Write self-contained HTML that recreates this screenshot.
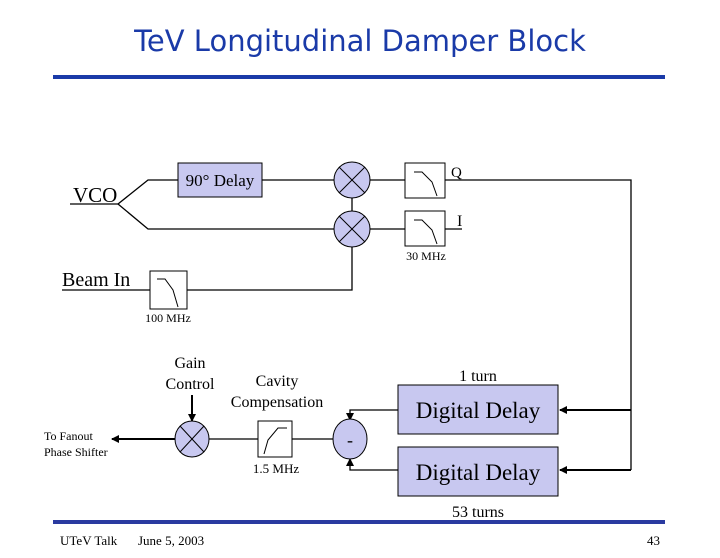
<!DOCTYPE html>
<html><head><style>
body{margin:0;background:#fff}
svg{display:block}
.s{font-family:"Liberation Serif",serif;fill:#000}
</style></head><body>
<svg width="720" height="558" viewBox="0 0 720 558" xmlns="http://www.w3.org/2000/svg">
<defs>
<marker id="ah" markerWidth="8" markerHeight="8" refX="7" refY="4" orient="auto" markerUnits="userSpaceOnUse">
<path d="M0,0 L8,4 L0,8 z" fill="#000"/></marker>
</defs>
<text x="360" y="51" text-anchor="middle" font-family="'Comic Sans MS','DejaVu Sans',sans-serif" font-size="29" fill="#1a3aa8">TeV Longitudinal Damper Block</text>
<rect x="53" y="75" width="612" height="4" fill="#1a3aa8"/>
<rect x="53" y="520" width="612" height="4" fill="#2a3aa0"/>
<text x="60" y="545" class="s" font-size="13">UTeV Talk</text>
<text x="138" y="545" class="s" font-size="13">June 5, 2003</text>
<text x="660" y="545" class="s" font-size="13" text-anchor="end">43</text>

<g stroke="#000" stroke-width="1.3" fill="none">
<!-- VCO -->
<line x1="70" y1="204" x2="118" y2="204"/>
<polyline points="118,204 148,180 178,180"/>
<polyline points="118,204 148,229 334,229"/>
<line x1="262" y1="180" x2="334" y2="180"/>
<line x1="370" y1="180" x2="405" y2="180"/>
<line x1="370" y1="229" x2="405" y2="229"/>
<line x1="352" y1="198" x2="352" y2="211"/>
<polyline points="445,180 631,180 631,470"/>
<line x1="445" y1="229" x2="462" y2="229"/>
<!-- beam -->
<line x1="62" y1="290" x2="150" y2="290"/>
<polyline points="187,290 352,290 352,247"/>
<!-- lower -->
<line x1="175" y1="439" x2="112" y2="439" stroke-width="2" marker-end="url(#ah)"/>
<line x1="192" y1="395" x2="192" y2="421" stroke-width="2" marker-end="url(#ah)"/>
<line x1="209" y1="439" x2="258" y2="439"/>
<line x1="292" y1="439" x2="333" y2="439"/>
<polyline points="398,410 350,410 350,420" marker-end="url(#ah)"/>
<polyline points="398,470 350,470 350,459" marker-end="url(#ah)"/>
<line x1="631" y1="410" x2="560" y2="410" stroke-width="2" marker-end="url(#ah)"/>
<line x1="631" y1="470" x2="560" y2="470" stroke-width="2" marker-end="url(#ah)"/>
</g>

<rect x="178" y="163" width="84" height="34" fill="#c8c8f0" stroke="#000"/>
<text x="220" y="186" class="s" font-size="17" text-anchor="middle">90° Delay</text>
<text x="73" y="202" class="s" font-size="21">VCO</text>
<text x="62" y="286" class="s" font-size="20">Beam In</text>

<!-- mixers -->
<g stroke="#000" stroke-width="1" fill="#c8c8f0">
<ellipse cx="352" cy="180" rx="18" ry="18"/>
<ellipse cx="352" cy="229" rx="18" ry="18"/>
<ellipse cx="192" cy="439" rx="17" ry="18"/>
<ellipse cx="350" cy="439" rx="17" ry="20"/>
</g>
<g stroke="#000" stroke-width="1">
<line x1="339" y1="167" x2="365" y2="193"/><line x1="365" y1="167" x2="339" y2="193"/>
<line x1="339" y1="216" x2="365" y2="242"/><line x1="365" y1="216" x2="339" y2="242"/>
<line x1="180" y1="426" x2="204" y2="452"/><line x1="204" y1="426" x2="180" y2="452"/>
</g>
<text x="350" y="446" class="s" font-size="18" text-anchor="middle">-</text>

<!-- filters -->
<g stroke="#000" stroke-width="1" fill="#fff">
<rect x="405" y="163" width="40" height="35"/>
<rect x="405" y="211" width="40" height="35"/>
<rect x="150" y="271" width="37" height="38"/>
<rect x="258" y="421" width="34" height="36"/>
</g>
<g stroke="#000" stroke-width="1" fill="none">
<path d="M414,172 H422 L432,182 L437,196"/>
<path d="M414,220 H422 L432,230 L437,244"/>
<path d="M157,279 H165 L173,290 L178,307"/>
<path d="M264,454 L268,440 L278,428 H287"/>
</g>
<text x="451" y="177" class="s" font-size="15">Q</text>
<text x="457" y="226" class="s" font-size="16">I</text>
<text x="426" y="260" class="s" font-size="12" text-anchor="middle">30 MHz</text>
<text x="168" y="322" class="s" font-size="12" text-anchor="middle">100 MHz</text>
<text x="276" y="473" class="s" font-size="13" text-anchor="middle">1.5 MHz</text>

<text x="190" y="368" class="s" font-size="16" text-anchor="middle">Gain</text>
<text x="190" y="389" class="s" font-size="16" text-anchor="middle">Control</text>
<text x="277" y="386" class="s" font-size="16" text-anchor="middle">Cavity</text>
<text x="277" y="407" class="s" font-size="16" text-anchor="middle">Compensation</text>
<text x="44" y="440" class="s" font-size="12">To Fanout</text>
<text x="44" y="456" class="s" font-size="12">Phase Shifter</text>

<rect x="398" y="385" width="160" height="49" fill="#c8c8f0" stroke="#000"/>
<rect x="398" y="447" width="160" height="49" fill="#c8c8f0" stroke="#000"/>
<text x="478" y="418" class="s" font-size="23" text-anchor="middle">Digital Delay</text>
<text x="478" y="480" class="s" font-size="23" text-anchor="middle">Digital Delay</text>
<text x="478" y="381" class="s" font-size="16" text-anchor="middle">1 turn</text>
<text x="478" y="517" class="s" font-size="16" text-anchor="middle">53 turns</text>
</svg>
</body></html>
